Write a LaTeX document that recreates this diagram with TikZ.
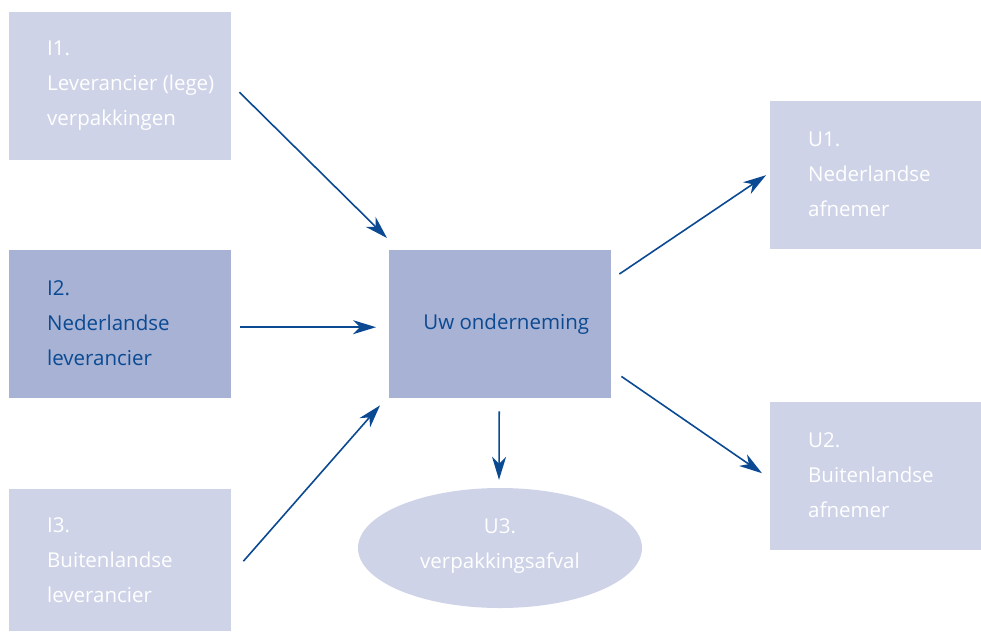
\documentclass[tikz,border=0pt]{standalone}
\usepackage{fontspec}
\setmainfont{Open Sans}
\usetikzlibrary{shapes.geometric,arrows.meta,calc}
\definecolor{boxlight}{HTML}{CED3E8}
\definecolor{boxdark}{HTML}{A7B2D4}
\definecolor{navy}{HTML}{0B4A92}
\begin{document}
\begin{tikzpicture}[x=1pt,y=-1pt,
  box/.style={draw=none,fill=boxlight,minimum width=222pt,minimum height=148pt,inner sep=0pt,anchor=north west},
  lbl/.style={anchor=west,align=left,inner sep=0pt,text=white,font=\fontsize{20.5}{35}\selectfont},
  conn/.style={draw=navy,line width=1.6pt,-{Stealth[length=23pt,width=14pt,inset=7pt]}}]
\useasboundingbox (0,0) rectangle (981,632);
\node[box] (i1) at (9,12) {};
\node[box,fill=boxdark] (i2) at (9,250) {};
\node[box,minimum height=142pt] (i3) at (9,489) {};
\node[box,fill=boxdark] (c) at (389,250) {};
\node[box,minimum width=211pt] (u1) at (770,101) {};
\node[box,minimum width=211pt] (u2) at (770,402) {};
\node[ellipse,fill=boxlight,minimum width=284pt,minimum height=120pt,inner sep=0pt] (u3) at (500,548) {};
\node[lbl] (t1) at ($(i1.west)+(38,-1)$) {I1.\\Leverancier (lege)\\verpakkingen};
\node[lbl,text=navy] (t2) at ($(i2.west)+(38,-1)$) {I2.\\Nederlandse\\leverancier};
\node[lbl] (t3) at ($(i3.west)+(38,0)$) {I3.\\Buitenlandse\\leverancier};
\node[lbl,text=navy,anchor=center] (tc) at ($(c.center)+(6,0)$) {Uw onderneming};
\node[lbl] (tu1) at ($(u1.west)+(38,-1)$) {U1.\\Nederlandse\\afnemer};
\node[lbl] (tu2) at ($(u2.west)+(38,-1)$) {U2.\\Buitenlandse\\afnemer};
\node[lbl,anchor=center,align=center] (tu3) at ($(u3.center)+(0,-2)$) {U3.\\verpakkingsafval};
\draw[conn] ($(i1.east)+(8,6)$) -- ($(c.north west)+(-2,-12)$);
\draw[conn] ($(i2.east)+(9,3)$) -- ($(c.west)+(-13,3)$);
\draw[conn] ($(i3.east)+(12,1)$) -- ($(c.south west)+(-9,7)$);
\draw[conn] ($(c.south)+(-1,13)$) -- ($(u3.north)+(-1,-8)$);
\draw[conn] ($(c.north east)+(8,24)$) -- ($(u1.west)+(-4,0)$);
\draw[conn] ($(c.south east)+(10,-22)$) -- ($(u2.west)+(-8,-3)$);
\end{tikzpicture}
\end{document}
